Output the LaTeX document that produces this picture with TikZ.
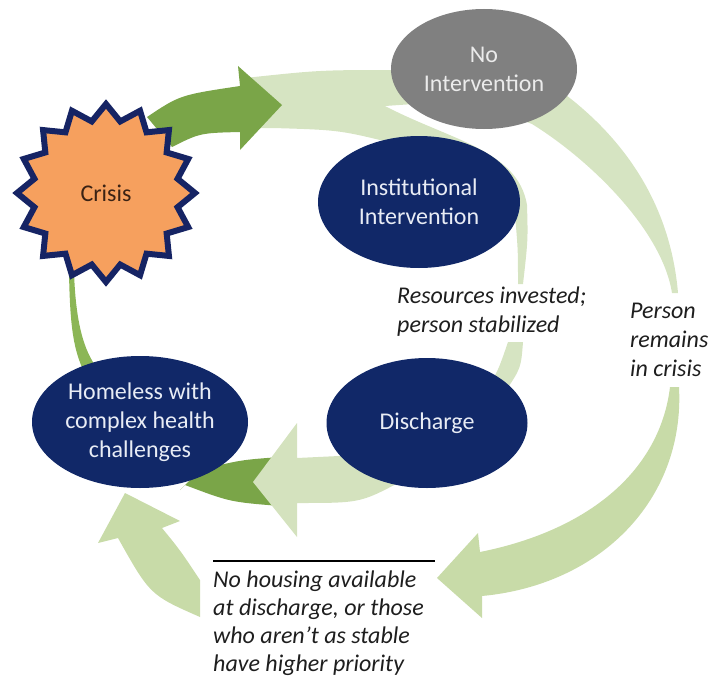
\documentclass[tikz,border=0pt]{standalone}
\usepackage{fontspec}
\setmainfont{Carlito}
\usetikzlibrary{shapes.geometric}
\definecolor{navy}{RGB}{17,40,104}
\definecolor{starline}{RGB}{22,36,100}
\definecolor{starfill}{RGB}{246,160,94}
\definecolor{greyfill}{RGB}{128,128,128}
\definecolor{darkG}{RGB}{122,165,72}
\definecolor{midG}{RGB}{140,182,86}
\definecolor{lightA}{RGB}{214,228,194}
\definecolor{lightC}{RGB}{200,219,168}
\definecolor{lightD}{RGB}{212,226,190}
\definecolor{nodetext}{RGB}{232,236,245}
\definecolor{crisistext}{RGB}{58,34,20}
\definecolor{itext}{RGB}{30,30,30}
\tikzset{
  big/.style={font=\fontsize{24}{29}\selectfont},
  oval/.style={ellipse, inner sep=0pt, align=center, big, text=nodetext},
  itx/.style={font=\fontsize{24}{29}\selectfont\itshape, text=itext, inner sep=0pt, anchor=base west}
}
\begin{document}
\begin{tikzpicture}[x=1pt,y=-1pt]
\useasboundingbox (0,0) rectangle (709,677);

% light bands (top band and right arc)
\fill[lightA] (245,78) .. controls (320,70) .. (400,70) -- (545,80)
  .. controls (620,130) and (670,200) .. (678,293) -- (672,293)
  .. controls (662,230) and (590,160) .. (532,124)
  .. controls (470,100) .. (385,106) -- (300,105) -- (245,128) -- cycle;
% band around institutional intervention
\fill[lightA] (245,100) -- (385,106) .. controls (450,140) and (518,150) .. (527,205)
  .. controls (528,240) .. (523,284) -- (518,284) .. controls (518,250) .. (515,215)
  -- (470,200) -- (400,145) .. controls (340,130) .. (273,128) -- (245,128) -- cycle;
% band to discharge
\fill[lightA] (508,342) -- (523,342) .. controls (521,368) .. (505,392) -- (470,400)
  .. controls (495,380) .. (508,342) -- cycle;
% big arrow bottom right
\fill[lightC] (679,387) -- (670,387) .. controls (660,470) and (590,530) .. (480,552)
  -- (478,533) -- (437,578) -- (482,618) -- (482,596)
  .. controls (600,585) and (685,500) .. (679,387) -- cycle;
% arrow bottom left up to homeless
\fill[lightC] (125,493) -- (180,521) -- (162,528) .. controls (180,550) .. (200,580)
  -- (200,617) .. controls (150,595) .. (118,538) -- (98,543) -- cycle;
% dark crescent under homeless
\fill[darkG] (180,490) -- (200,470) .. controls (240,460) .. (280,457) -- (280,506)
  .. controls (230,502) .. (185,485) -- cycle;
% arrow discharge to homeless
\fill[lightD] (253,482) -- (297,423) -- (297,458) -- (360,455) -- (400,482)
  .. controls (360,503) .. (297,503) -- (297,537) -- cycle;
% thin line crisis to homeless
\fill[midG] (69,272) .. controls (70,330) and (74,350) .. (84,372) -- (100,372)
  .. controls (86,355) and (76,330) .. (74,272) -- cycle;
% dark arrow from crisis
\fill[darkG] (147,117) .. controls (180,95) .. (240,86) -- (238,66) -- (282,105)
  -- (240,150) -- (240,132) .. controls (200,133) .. (172,147) -- cycle;

% nodes
\node[star, star points=16, star point ratio=1.22, minimum size=178pt, inner sep=0pt,
  fill=starfill, draw=starline, line width=6pt, big, text=crisistext] (crisis) at (106,193) {Crisis};
\node[oval, fill=greyfill, minimum width=186pt, minimum height=120pt, text=white!92!black] (noint) at (484,69) {No\\Intervention};
\node[oval, fill=navy, minimum width=202pt, minimum height=132pt] (inst) at (419,202) {Institutional\\Intervention};
\node[oval, fill=navy, minimum width=201pt, minimum height=130pt] (disch) at (427,423) {Discharge};
\node[oval, fill=navy, minimum width=216pt, minimum height=132pt] (home) at (140,422) {Homeless with\\complex health\\challenges};

% labels
\node[itx] (res1) at (397,303) {Resources invested;};
\node[itx] (res2) at (397,332) {person stabilized};
\node[itx] (per1) at (630,318) {Person};
\node[itx] (per2) at (630,347) {remains};
\node[itx] (per3) at (630,376) {in crisis};
\coordinate (ruleL) at (213,561);
\coordinate (ruleR) at (435,561);
\draw[line width=1.5pt, black] (ruleL) -- (ruleR);
\node[itx] (nh1) at (213,587) {No housing available};
\node[itx] (nh2) at (213,615) {at discharge, or those};
\node[itx] (nh3) at (213,643) {who aren’t as stable};
\node[itx] (nh4) at (213,671) {have higher priority};
\end{tikzpicture}
\end{document}
